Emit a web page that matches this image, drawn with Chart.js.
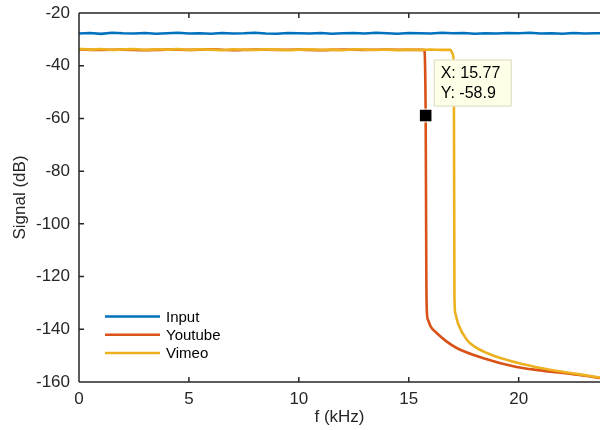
<!DOCTYPE html>
<html>
<head>
<meta charset="utf-8">
<script src="https://cdn.jsdelivr.net/npm/chart.js@4/dist/chart.umd.min.js"></script>
<style>
html,body{margin:0;padding:0;background:#fff;}
#wrap{width:600px;height:430px;position:relative;}
</style>
</head>
<body>
<div id="wrap"><canvas id="c" width="600" height="430"></canvas></div>
<script>
// ---- data ----
const seriesNames = ['Input', 'Youtube', 'Vimeo'];
const seriesColors = ['#0072BD', '#D95319', '#EDB120'];
const xTicks = [0, 5, 10, 15, 20];
const yTicks = [-160, -140, -120, -100, -80, -60, -40, -20];

const inputX = [0,0.5,1,1.5,2,2.5,3,3.5,4,4.5,5,5.5,6,6.5,7,7.5,8,8.5,9,9.5,10,10.5,11,11.5,12,12.5,13,13.5,14,14.5,15,15.5,16,16.5,17,17.5,18,18.5,19,19.5,20,20.5,21,21.5,22,22.5,23,23.5,23.7];
const inputY = [-27.8,-27.6,-27.9,-27.5,-27.7,-27.8,-27.6,-27.9,-27.7,-27.5,-27.8,-27.7,-27.9,-27.6,-27.8,-27.7,-27.5,-27.8,-27.9,-27.6,-27.7,-27.8,-27.6,-27.9,-27.7,-27.6,-27.8,-27.5,-27.7,-27.9,-27.6,-27.7,-27.8,-27.5,-27.7,-27.6,-27.9,-27.7,-27.8,-27.6,-27.7,-27.5,-27.8,-27.7,-27.9,-27.6,-27.8,-27.7,-27.7];

const youtubeX = [0,1,2,3,4,5,6,7,8,9,10,11,12,13,14,15,15.7,15.77,15.8,15.83,15.88,16.0,16.27,16.7,17.18,18.36,19.9,21.0,22.2,23.0,23.7];
const youtubeY = [-33.8,-34.0,-33.9,-34.1,-33.9,-34.0,-33.8,-34.1,-33.9,-34.0,-33.9,-34.1,-33.9,-34.0,-33.9,-34.0,-34.0,-58.9,-120,-134,-136.5,-139.0,-141.4,-144.5,-147.1,-150.9,-154.3,-155.6,-156.8,-157.6,-158.5];

const vimeoX = [0,0.5,1,1.5,2,2.5,3,3.5,4,4.5,5,5.5,6,6.5,7,7.5,8,8.5,9,9.5,10,10.5,11,11.5,12,12.5,13,13.5,14,14.5,15,15.5,16,16.5,16.9,17.0,17.05,17.08,17.12,17.25,17.64,18.0,18.55,19.2,19.9,21.0,22.2,23.0,23.7];
const vimeoY = [-33.6,-33.9,-33.7,-34.0,-33.8,-33.7,-34.0,-33.8,-33.9,-33.7,-34.0,-33.8,-33.9,-34.1,-33.8,-33.9,-34.0,-33.8,-33.9,-34.1,-33.9,-33.8,-34.0,-33.9,-34.1,-33.8,-33.9,-34.0,-33.9,-34.1,-33.9,-34.0,-33.9,-34.0,-34.0,-35.5,-40,-128,-134,-138,-144,-146.6,-149,-151,-152.6,-154.7,-156.4,-157.4,-158.3];

const tipX = 15.77;
const tipY = -58.9;

const xMin = 0, xMax = 23.7, yMin = -160, yMax = -20;

const pts = (xs, ys) => xs.map((x, i) => ({x: x, y: ys[i]}));

const FONT = '"Liberation Sans", Arial, Helvetica, sans-serif';
const AXIS = '#262626';

const frame = {
  id: 'frame',
  afterDatasetsDraw(chart) {
    const {ctx, chartArea: a, scales: {x, y}} = chart;
    ctx.save();
    ctx.strokeStyle = AXIS;
    ctx.lineWidth = 1.5;
    ctx.beginPath();
    ctx.moveTo(a.left, a.top); ctx.lineTo(a.right + 2, a.top);
    ctx.moveTo(a.left, a.top); ctx.lineTo(a.left, a.bottom);
    ctx.moveTo(a.left, a.bottom); ctx.lineTo(a.right + 2, a.bottom);
    const tl = 5;
    xTicks.forEach(v => {
      const px = x.getPixelForValue(v);
      ctx.moveTo(px, a.bottom); ctx.lineTo(px, a.bottom - tl);
      ctx.moveTo(px, a.top); ctx.lineTo(px, a.top + tl);
    });
    yTicks.forEach(v => {
      const py = y.getPixelForValue(v);
      ctx.moveTo(a.left, py); ctx.lineTo(a.left + tl, py);
    });
    ctx.stroke();

    // legend
    ctx.font = '15px ' + FONT;
    ctx.textBaseline = 'middle';
    const lx = a.left + 26, ly0 = 316.5, dy = 18.3;
    seriesNames.forEach((n, i) => {
      const yy = ly0 + i * dy;
      ctx.strokeStyle = seriesColors[i];
      ctx.lineWidth = 2.5;
      ctx.beginPath(); ctx.moveTo(lx, yy); ctx.lineTo(lx + 55, yy); ctx.stroke();
      ctx.fillStyle = '#000';
      ctx.fillText(n, lx + 61, yy + 1);
    });

    // data tip
    const px = x.getPixelForValue(tipX), py = y.getPixelForValue(tipY);
    const s = 12;
    ctx.fillStyle = '#000';
    ctx.strokeStyle = '#fff';
    ctx.lineWidth = 1;
    ctx.fillRect(px - s / 2, py - s / 2, s, s);
    ctx.strokeRect(px - s / 2 - 0.5, py - s / 2 - 0.5, s + 1, s + 1);
    const bx = px + 8, by = py - 56, bw = 78, bh = 47;
    ctx.fillStyle = '#FFFFE8';
    ctx.fillRect(bx, by, bw, bh);
    ctx.strokeStyle = '#D9D9C0';
    ctx.lineWidth = 1;
    ctx.strokeRect(bx + 0.5, by + 0.5, bw - 1, bh - 1);
    ctx.fillStyle = '#000';
    ctx.font = '16px ' + FONT;
    ctx.textBaseline = 'middle';
    ctx.fillText('X: ' + tipX.toFixed(2), bx + 7, by + 14);
    ctx.fillText('Y: ' + tipY.toFixed(1), bx + 7, by + 34);
    ctx.restore();
  }
};

new Chart(document.getElementById('c'), {
  type: 'line',
  data: {
    datasets: [
      {label: seriesNames[0], data: pts(inputX, inputY), borderColor: seriesColors[0], order: 3},
      {label: seriesNames[1], data: pts(youtubeX, youtubeY), borderColor: seriesColors[1], order: 2, cubicInterpolationMode: 'monotone'},
      {label: seriesNames[2], data: pts(vimeoX, vimeoY), borderColor: seriesColors[2], order: 1, cubicInterpolationMode: 'monotone'}
    ]
  },
  options: {
    responsive: false,
    animation: false,
    parsing: false,
    clip: false,
    elements: {point: {radius: 0}, line: {borderWidth: 2.6, fill: false}},
    layout: {padding: {top: 0, right: 0, left: 0, bottom: 0}},
    plugins: {legend: {display: false}, tooltip: {enabled: false}},
    scales: {
      x: {
        type: 'linear', min: xMin, max: xMax,
        afterBuildTicks: s => { s.ticks = xTicks.map(v => ({value: v})); },
        afterFit: s => { s.height = 48; s.paddingLeft = 0; s.paddingRight = 0; },
        grid: {display: false, drawTicks: false},
        border: {display: false},
        ticks: {color: AXIS, font: {family: FONT, size: 17}, padding: 7, maxRotation: 0},
        title: {display: true, text: 'f (kHz)', color: AXIS, font: {family: FONT, size: 17}, padding: {top: 0, bottom: 2}}
      },
      y: {
        type: 'linear', min: yMin, max: yMax,
        afterBuildTicks: s => { s.ticks = yTicks.map(v => ({value: v})); },
        afterFit: s => { s.width = 79; s.paddingTop = 13; s.paddingBottom = 0; },
        grid: {display: false, drawTicks: false},
        border: {display: false},
        ticks: {color: AXIS, font: {family: FONT, size: 17}, padding: 9},
        title: {display: true, text: 'Signal (dB)', color: AXIS, font: {family: FONT, size: 17}, padding: {top: 10, bottom: 0}}
      }
    }
  },
  plugins: [frame]
});
</script>
</body>
</html>
